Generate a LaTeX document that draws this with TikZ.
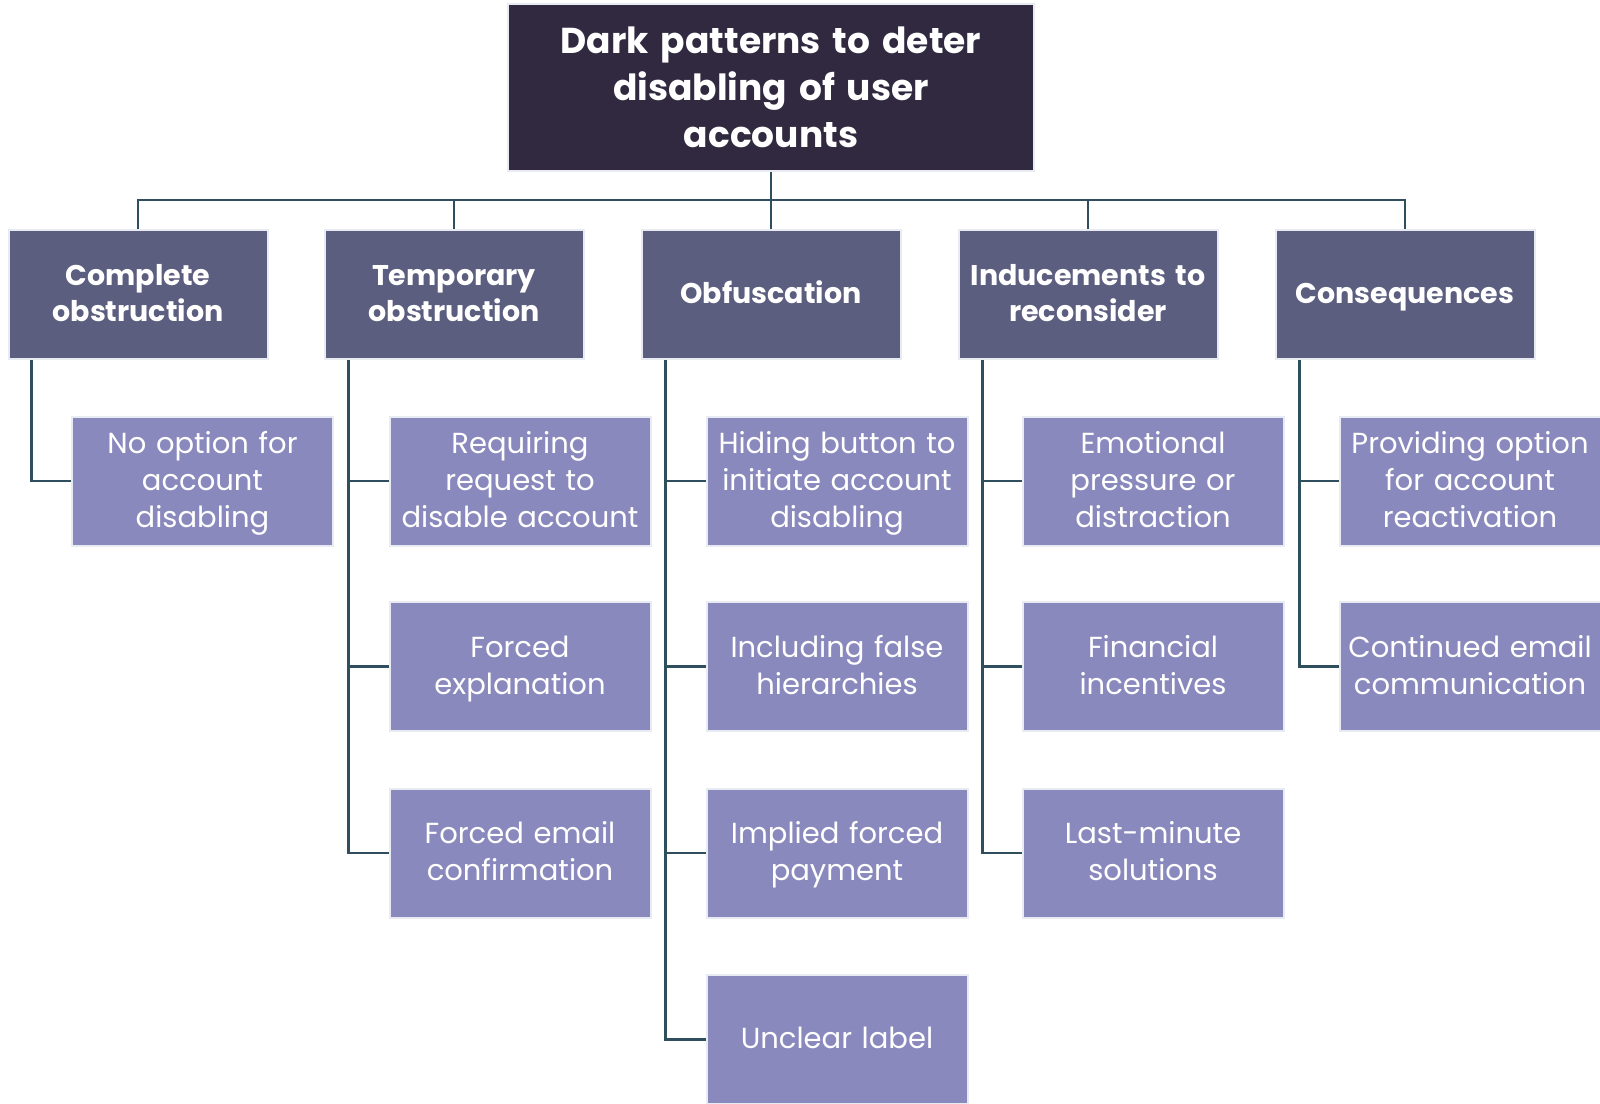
\documentclass[tikz,border=0pt]{standalone}
\usepackage{fontspec}
\setmainfont{Poppins}
\definecolor{topc}{HTML}{312940}
\definecolor{midc}{HTML}{5C5E80}
\definecolor{leafc}{HTML}{8A89BD}
\definecolor{linec}{HTML}{2F4F5F}
\definecolor{edgec}{HTML}{E8ECF2}
\newcommand{\topstrut}[1]{\vrule height \dimexpr\ht\strutbox+#1\relax width 0pt\relax}
\begin{document}
\begin{tikzpicture}[x=1pt,y=-1pt,
  boxbase/.style={draw=edgec,line width=2pt,align=center,text=white,inner sep=0pt,
    execute at end node=\strut},
  topbox/.style={boxbase,fill=topc,minimum width=526pt,minimum height=167pt,
    text width=500pt,font=\fontsize{36}{47}\selectfont\bfseries,execute at begin node=\topstrut{7pt}},
  midbox/.style={boxbase,fill=midc,minimum width=259pt,minimum height=129pt,
    text width=255pt,font=\fontsize{28.5}{36}\selectfont\bfseries,execute at begin node=\topstrut{4pt}},
  leafbox/.style={boxbase,fill=leafc,minimum width=261pt,minimum height=129pt,
    text width=257pt,font=\fontsize{29}{37}\selectfont,execute at begin node=\topstrut{4pt}},
  conn/.style={draw=linec,line width=2.6pt}]
\useasboundingbox (0,0) rectangle (1600,1103);
\node[topbox] (top) at (771,87.5) {Dark patterns to deter\\disabling of user\\accounts};
\node[midbox] (m1) at (138,294.5) {Complete\\obstruction};
\node[midbox] (m2) at (454,294.5) {Temporary\\obstruction};
\node[midbox] (m3) at (771,294.5) {Obfuscation};
\node[midbox] (m4) at (1088,294.5) {Inducements to\\reconsider};
\node[midbox] (m5) at (1405,294.5) {Consequences};
\coordinate (bus) at (771,200);
\draw[conn] (top.south) -- (bus);
\draw[conn] (m1.north) |- (bus) -| (m5.north);
\foreach \m in {m2,m3,m4} \draw[conn] (\m.north) -- (\m.north |- bus);
% leaves
\node[leafbox] (a1) at (202.5,481) {No option for\\account\\disabling};
\node[leafbox] (b1) at (520,481) {Requiring\\request to\\disable account};
\node[leafbox] (b2) at (520,666.5) {Forced\\explanation};
\node[leafbox] (b3) at (520,853) {Forced email\\confirmation};
\node[leafbox] (c1) at (837,481) {Hiding button to\\initiate account\\disabling};
\node[leafbox] (c2) at (837,666.5) {Including false\\hierarchies};
\node[leafbox] (c3) at (837,853) {Implied forced\\payment};
\node[leafbox] (c4) at (837,1039.5) {Unclear label};
\node[leafbox] (d1) at (1153,481) {Emotional\\pressure or\\distraction};
\node[leafbox] (d2) at (1153,666.5) {Financial\\incentives};
\node[leafbox] (d3) at (1153,853) {Last-minute\\solutions};
\node[leafbox] (e1) at (1470,481) {Providing option\\for account\\reactivation};
\node[leafbox] (e2) at (1470,666.5) {Continued email\\communication};
\draw[conn] ([xshift=24pt]m1.south west) |- (a1.west);
\foreach \c in {b1,b2,b3} \draw[conn] ([xshift=25pt]m2.south west) |- (\c.west);
\foreach \c in {c1,c2,c3,c4} \draw[conn] ([xshift=25pt]m3.south west) |- (\c.west);
\foreach \c in {d1,d2,d3} \draw[conn] ([xshift=25pt]m4.south west) |- (\c.west);
\foreach \c in {e1,e2} \draw[conn] ([xshift=25pt]m5.south west) |- (\c.west);
\end{tikzpicture}
\end{document}
